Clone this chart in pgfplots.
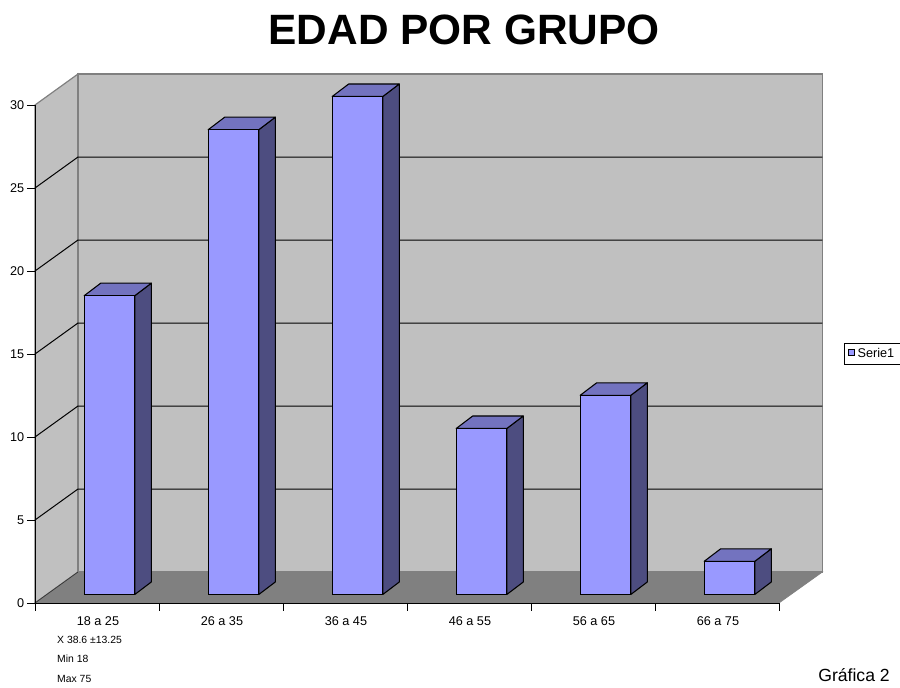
\documentclass[border=0pt]{standalone}
\usepackage{pgfplots}
\pgfplotsset{compat=1.18}
\usepackage{fontspec}
\setmainfont{Liberation Sans}
\definecolor{wallc}{HTML}{C0C0C0}
\definecolor{floorc}{HTML}{808080}
\definecolor{frontc}{HTML}{9999FF}
\definecolor{sidec}{HTML}{4D4D80}
\definecolor{topc}{HTML}{7373BF}
\pgfplotsset{
  wall/.style={fill=wallc,draw=floorc,line width=0.9pt,forget plot},
  gline/.style={draw=black,line width=0.75pt,forget plot},
  barface/.style={draw=black,line width=0.8pt,xshift=12.5*0.75pt,yshift=8.5*0.75pt,forget plot,line join=round},
}
\begin{document}
\begin{tikzpicture}
\useasboundingbox (-26.25pt,-63.75pt) rectangle (648.75pt,452.25pt);
\begin{axis}[
  x=93pt,y=12.45pt,
  xmin=0,xmax=6,ymin=0,ymax=30,
  scale only axis,
  clip=false,
  axis lines=left,
  axis line style={-,black,line width=0.6pt},
  axis on top=true,
  tick style={black,line width=0.6pt},
  major tick length=6pt,
  tick align=outside,
  xtick={0,1,2,3,4,5,6},
  x tick label as interval=true,
  xticklabels={18 a 25,26 a 35,36 a 45,46 a 55,56 a 65,66 a 75},
  ytick={0,5,10,15,20,25,30},
  tick label style={font=\fontsize{9.5pt}{11pt}\selectfont},
  xticklabel style={yshift=-1pt,xshift=0.7pt},
  yticklabel style={xshift=1.5pt},
  /pgf/number format/assume math mode=true,
  legend style={at={(axis cs:6.524,15.66)},anchor=north west,draw=black,
    line width=0.6pt,font=\fontsize{9.5pt}{10pt}\selectfont,
    inner xsep=2.5pt,inner ysep=1.5pt,
    cells={anchor=base west}},
  legend image code/.code={
    \draw[fill=frontc,draw=black,line width=0.6pt] (4pt,-4.9pt) rectangle (8.8pt,-0.1pt);
  },
]
% walls and floor
\addplot[wall] coordinates {(0,0)(0,30)(0.3468,31.867)(0.3468,1.867)} -- cycle;
\addplot[wall] coordinates {(0.3468,1.867)(0.3468,31.867)(6.35,31.867)(6.35,1.867)} -- cycle;
\addplot[fill=floorc,draw=floorc,line width=0.5pt,forget plot] coordinates {(0,0)(6,0)(6.35,1.867)(0.3468,1.867)} -- cycle;
% gridlines
\addplot[gline] coordinates {(0,5)(0.3468,6.867)(6.35,6.867)};
\addplot[gline] coordinates {(0,10)(0.3468,11.867)(6.35,11.867)};
\addplot[gline] coordinates {(0,15)(0.3468,16.867)(6.35,16.867)};
\addplot[gline] coordinates {(0,20)(0.3468,21.867)(6.35,21.867)};
\addplot[gline] coordinates {(0,25)(0.3468,26.867)(6.35,26.867)};
\addplot[draw=black!80,line width=0.5pt,forget plot] coordinates {(0,0)(0.3468,1.867)};
% side faces
\addplot[barface,fill=sidec] coordinates {(0.704,0)(0.837,0.753)(0.837,18.753)(0.704,18)} -- cycle;
\addplot[barface,fill=sidec] coordinates {(1.704,0)(1.837,0.753)(1.837,28.753)(1.704,28)} -- cycle;
\addplot[barface,fill=sidec] coordinates {(2.704,0)(2.837,0.753)(2.837,30.753)(2.704,30)} -- cycle;
\addplot[barface,fill=sidec] coordinates {(3.704,0)(3.837,0.753)(3.837,10.753)(3.704,10)} -- cycle;
\addplot[barface,fill=sidec] coordinates {(4.704,0)(4.837,0.753)(4.837,12.753)(4.704,12)} -- cycle;
\addplot[barface,fill=sidec] coordinates {(5.704,0)(5.837,0.753)(5.837,2.753)(5.704,2)} -- cycle;
% top faces
\addplot[barface,fill=topc] coordinates {(0.296,18)(0.704,18)(0.837,18.753)(0.429,18.753)} -- cycle;
\addplot[barface,fill=topc] coordinates {(1.296,28)(1.704,28)(1.837,28.753)(1.429,28.753)} -- cycle;
\addplot[barface,fill=topc] coordinates {(2.296,30)(2.704,30)(2.837,30.753)(2.429,30.753)} -- cycle;
\addplot[barface,fill=topc] coordinates {(3.296,10)(3.704,10)(3.837,10.753)(3.429,10.753)} -- cycle;
\addplot[barface,fill=topc] coordinates {(4.296,12)(4.704,12)(4.837,12.753)(4.429,12.753)} -- cycle;
\addplot[barface,fill=topc] coordinates {(5.296,2)(5.704,2)(5.837,2.753)(5.429,2.753)} -- cycle;
% front faces: the data
\addplot[ybar,bar width=37.9pt,bar shift=0pt,fill=frontc,draw=black,line width=0.8pt,
  xshift=12.5*0.75pt,yshift=8.5*0.75pt] coordinates {(0.5,18)(1.5,28)(2.5,30)(3.5,10)(4.5,12)(5.5,2)};
\legend{Serie1}
% texts
\node[font=\bfseries\fontsize{31.8pt}{36pt}\selectfont,anchor=center] at (axis cs:3.46,34.55) {EDAD POR GRUPO};
\node[font=\fontsize{7.8pt}{9pt}\selectfont,anchor=west,inner sep=0pt] at (axis cs:0.177,-2.23) {X 38.6 ±13.25};
\node[font=\fontsize{7.8pt}{9pt}\selectfont,anchor=west,inner sep=0pt] at (axis cs:0.177,-3.37) {Min 18};
\node[font=\fontsize{7.8pt}{9pt}\selectfont,anchor=west,inner sep=0pt] at (axis cs:0.177,-4.58) {Max 75};
\node[font=\fontsize{13.2pt}{15pt}\selectfont,anchor=west,inner sep=0pt] at (axis cs:6.315,-4.33) {Gráfica 2};
\end{axis}
\end{tikzpicture}
\end{document}
